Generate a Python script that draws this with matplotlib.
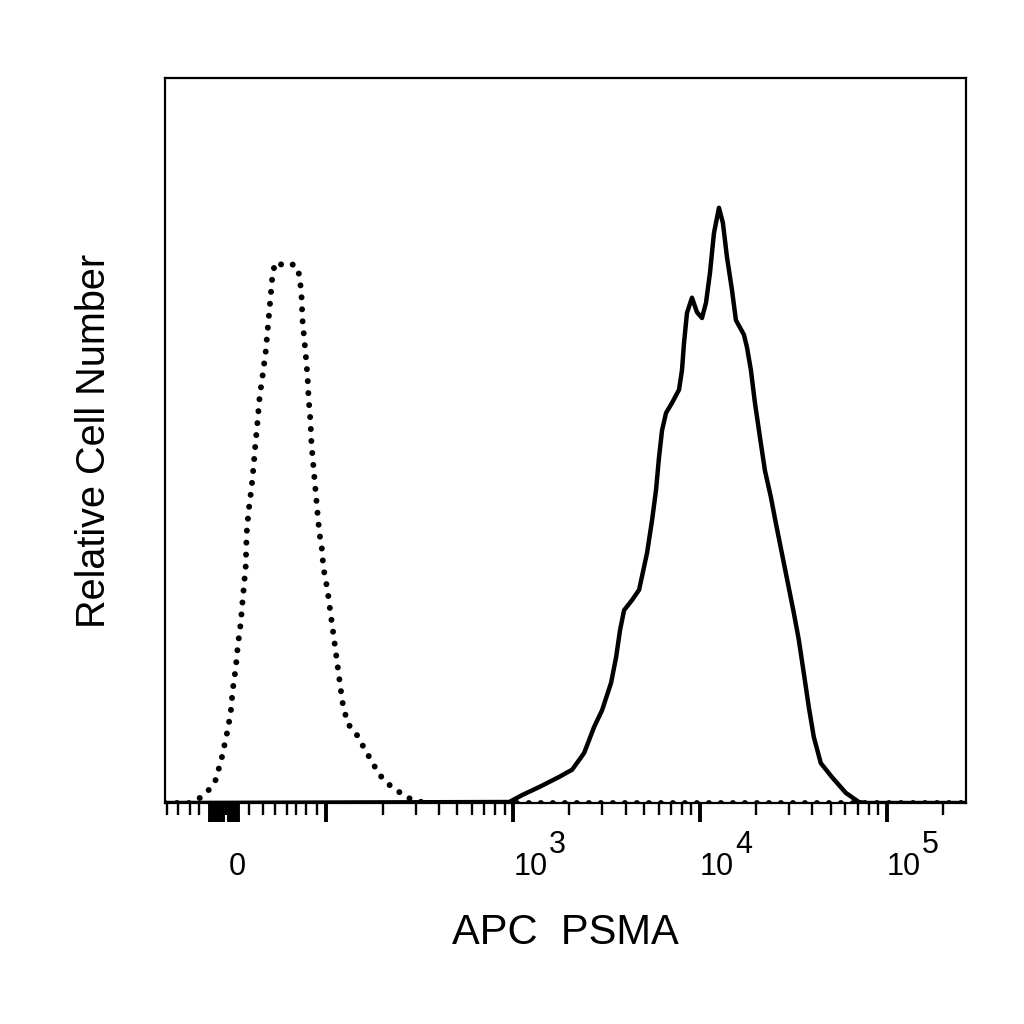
import matplotlib
matplotlib.use("Agg")
import matplotlib.pyplot as plt

plt.rcParams['font.family'] = ['Liberation Sans', 'DejaVu Sans']

# ---- data (fluorescence intensity, relative cell number) ----
iso_x = [-82, -54, -42.7, -32.6, -24.7, -18.0, -12.4, -7.9, -5.6, -2.2, 0, 3.4, 5.6, 9.0,
         10.1, 12.4, 15.7, 18.0, 20.2, 22.5, 24.7, 28.1, 31.5, 33.7, 36.0, 38.2, 39.3,
         42.7, 52.8, 64.0, 69.7, 71.9, 73.0, 76.4, 78.7, 79.8, 82.0, 83.1, 85.4, 87.6,
         89.9, 92.1, 94.4, 96.6, 101.2, 105.0, 109.0, 113.1, 117.3, 121.8, 129.5, 144.7,
         155.8, 169.8, 192.0, 217.2, 267.8, 302.9, 342.6, 264600]
iso_y = [0, 0, 0.7, 1.8, 3.2, 6.2, 9.4, 12.4, 15.6, 18.6, 21.5, 24.8, 28.0, 32.6,
         37.2, 40.4, 43.6, 46.6, 49.8, 52.8, 56.0, 59.0, 62.2, 65.2, 68.4, 71.4, 73.1,
         74.6, 74.1, 74.3, 72.8, 69.8, 66.6, 62.1, 58.8, 55.9, 52.6, 49.5, 46.3, 43.2,
         40.0, 37.1, 35.6, 32.4, 29.4, 26.3, 23.2, 20.1, 17.0, 13.9, 11.0, 9.5,
         8.0, 6.3, 3.9, 2.5, 0.8, 0.3, 0, 0]

psma_x = [-82, 952, 1117, 1377, 1762, 2068, 2397, 2712, 2991, 3343, 3555, 3735, 3924,
          4330, 4719, 5208, 5538, 5818, 6035, 6264, 6580, 7086, 7722, 8010, 8210, 8520,
          9060, 9638, 10250, 10770, 11310, 11880, 12640, 13270, 13950, 14830, 15580,
          17190, 17840, 18740, 19690, 20940, 22260, 23970, 25490, 28840, 31820, 33830,
          35980, 38280, 40700, 44370, 50810, 60370, 70860, 77220, 264600]
psma_y = [0, 0.14, 1.1, 2.2, 3.6, 4.6, 6.9, 10.5, 12.8, 16.6, 20.1, 23.9, 26.6,
          28.0, 29.4, 34.5, 39.0, 43.2, 47.7, 51.4, 53.8, 55.2, 57.0, 59.7, 63.4, 67.6,
          69.7, 67.7, 66.9, 69.0, 73.1, 78.6, 82.1, 80.0, 75.3, 70.8, 66.6,
          64.6, 62.9, 59.7, 55.2, 50.5, 45.9, 42.2, 38.6, 31.7, 26.2, 22.5,
          17.9, 13.2, 9.1, 5.5, 3.6, 1.4, 0.14, 0, 0]

major_ticks = [-31, -28, -25, -22, -19, -16, -10, -7, -4, -2, 0, 100, 1000, 10000, 100000]
major_labels = ['', '', '', '', '', '', '', '', '', '', '0', '', '10', '10', '10']
exponents = {1000: '3', 10000: '4', 100000: '5'}
minor_ticks = ([-80, -67, -54, -43, -13, 13, 28, 42, 55, 66, 77, 89]
               + [m * 10 ** d for d in (2, 3, 4) for m in range(2, 10)] + [200000])

x_label = 'APC  PSMA'
y_label = 'Relative Cell Number'

# ---- figure ----
fig = plt.figure(figsize=(10.24, 10.24), dpi=100)
ax = fig.add_axes([0.161, 0.2158, 0.782, 0.708])

ax.set_xscale('symlog', linthresh=100, linscale=0.428)
ax.set_xlim(-82, 264600)
ax.set_ylim(0, 100)

ax.plot(psma_x, psma_y, color='black', lw=3.2, solid_joinstyle='round')
ax.plot(iso_x, iso_y, color='black', lw=4.3, linestyle=(0, (0.01, 2.0)),
        dash_capstyle='round')

for s in ax.spines.values():
    s.set_linewidth(1.6)

ax.set_yticks([])
ax.set_xticks(major_ticks)
ax.set_xticklabels(major_labels)
ax.set_xticks(minor_ticks, minor=True)
ax.tick_params(axis='x', which='major', direction='out', length=14, width=2.8,
               pad=21.5, labelsize=22)
ax.tick_params(axis='x', which='minor', direction='out', length=8.5, width=1.7)
for lbl, v in zip(ax.get_xticklabels(), major_ticks):
    lbl.set_ha('center' if v == 0 else 'left')

for v, e in exponents.items():
    ax.annotate(e, xy=(v, 0), xycoords=('data', 'axes fraction'),
                xytext=(25.5, -36), textcoords='offset points',
                ha='left', va='baseline', fontsize=22)

ax.set_xlabel(x_label, fontsize=30, labelpad=22)
ax.set_ylabel(y_label, fontsize=28.5, labelpad=37)

fig.savefig('out.png', dpi=100, facecolor='white')
